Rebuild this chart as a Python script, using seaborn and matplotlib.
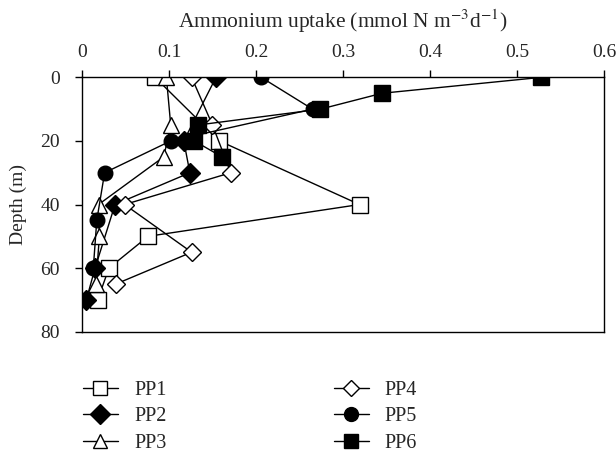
import numpy as np
import pandas as pd
import matplotlib
matplotlib.use("Agg")
import matplotlib.pyplot as plt
import seaborn as sns
from matplotlib.lines import Line2D

sns.set_theme(style="white")
plt.rcParams["font.family"] = ["Liberation Serif", "DejaVu Serif"]
plt.rcParams["mathtext.fontset"] = "stix"

# Depth profiles of ammonium uptake at six stations
pp1_depth = [0, 20, 40, 50, 60, 70]
pp1_uptake = [0.084, 0.158, 0.319, 0.076, 0.031, 0.018]

pp2_depth = [0, 20, 30, 40, 60, 70]
pp2_uptake = [0.154, 0.117, 0.124, 0.038, 0.015, 0.005]

pp3_depth = [0, 15, 25, 40, 50, 65]
pp3_uptake = [0.097, 0.102, 0.094, 0.019, 0.020, 0.016]

pp4_depth = [0, 15, 30, 40, 55, 65]
pp4_uptake = [0.126, 0.150, 0.171, 0.049, 0.126, 0.039]

pp5_depth = [0, 10, 20, 30, 45, 60]
pp5_uptake = [0.206, 0.265, 0.102, 0.026, 0.017, 0.013]

pp6_depth = [0, 5, 10, 15, 20, 25]
pp6_uptake = [0.528, 0.345, 0.274, 0.133, 0.129, 0.161]

series_names = ["PP1", "PP2", "PP3", "PP4", "PP5", "PP6"]
depths = [pp1_depth, pp2_depth, pp3_depth, pp4_depth, pp5_depth, pp6_depth]
uptakes = [pp1_uptake, pp2_uptake, pp3_uptake, pp4_uptake, pp5_uptake, pp6_uptake]

styles = {
    "PP1": dict(marker="s", ms=11.5, mfc="white", lms=10.5),
    "PP2": dict(marker="D", ms=10.5, mfc="black", lms=10),
    "PP3": dict(marker="^", ms=11, mfc="white", lms=10),
    "PP4": dict(marker="D", ms=9, mfc="white", lms=8.5),
    "PP5": dict(marker="o", ms=10.5, mfc="black", lms=10),
    "PP6": dict(marker="s", ms=11.5, mfc="black", lms=10.5),
}

TICK_FS = 14
TITLE_FS = 15.5
LEG_FS = 14.5

fig = plt.figure(figsize=(6.16, 4.55), dpi=100)
ax = fig.add_axes([0.1331, 0.271, 0.8474, 0.559])

for name, d, u in zip(series_names, depths, uptakes):
    df = pd.DataFrame({"uptake": u, "depth": d})
    st = styles[name]
    sns.lineplot(data=df, x="uptake", y="depth", sort=False, estimator=None,
                 color="black", lw=1.0, marker=st["marker"], markersize=st["ms"],
                 markerfacecolor=st["mfc"], markeredgecolor="black",
                 markeredgewidth=1.0, ax=ax, legend=False)

ax.set_xlim(0, 0.6)
ax.set_ylim(80, 0)
ax.set_xticks([0, 0.1, 0.2, 0.3, 0.4, 0.5, 0.6])
ax.set_xticklabels(["0", "0.1", "0.2", "0.3", "0.4", "0.5", "0.6"])
ax.set_yticks([0, 20, 40, 60, 80])
ax.xaxis.tick_top()
ax.xaxis.set_label_position("top")
ax.tick_params(axis="x", which="both", top=True, bottom=False, direction="out",
               length=5, width=1, color="black", labelsize=TICK_FS, pad=6.5)
ax.tick_params(axis="y", which="both", left=True, right=False, direction="out",
               length=5, width=1, color="black", labelsize=TICK_FS, pad=11)
ax.set_xlabel(r"Ammonium uptake (mmol N m$^{-3}$d$^{-1}$)", fontsize=TITLE_FS, labelpad=11.5)
ax.set_ylabel("Depth (m)", fontsize=TICK_FS, labelpad=9.5)
for s in ax.spines.values():
    s.set_color("black")
    s.set_linewidth(1.0)

handles = []
for name in series_names:
    st = styles[name]
    handles.append(Line2D([0], [0], color="black", lw=1.0, marker=st["marker"],
                          markersize=st["lms"], markerfacecolor=st["mfc"],
                          markeredgecolor="black", label=name))
fig.legend(handles=handles, loc="upper left", bbox_to_anchor=(0.1047, 0.2029),
           ncol=2, frameon=False, fontsize=LEG_FS, handlelength=1.74,
           columnspacing=8.3, labelspacing=0.365, handletextpad=0.81)

fig.savefig("out.png", dpi=100)
